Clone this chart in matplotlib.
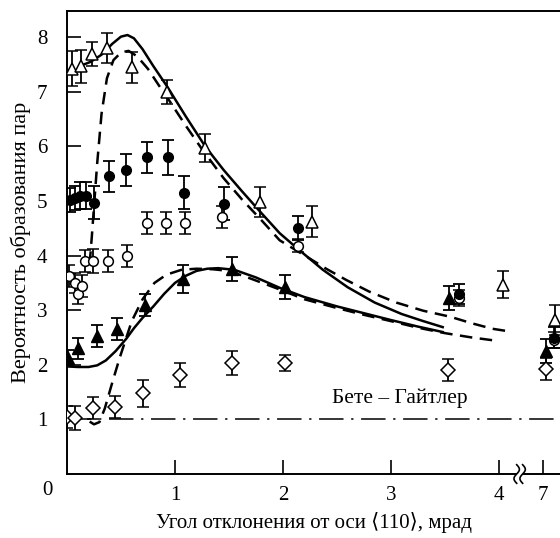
import numpy as np
import matplotlib
matplotlib.use('Agg')
import matplotlib.pyplot as plt

plt.rcParams['font.family'] = ['Liberation Serif', 'DejaVu Serif']
plt.rcParams['mathtext.fontset'] = 'stix'

# --- experimental points (angle in mrad, probability, error) ---
tri_open_x = [0.05, 0.13, 0.23, 0.37, 0.60, 0.93, 1.28, 1.79, 2.27, 4.04, 7.11]
tri_open_y = [7.42, 7.47, 7.69, 7.80, 7.45, 7.00, 5.97, 4.98, 4.62, 3.47, 2.82]
tri_open_e = [0.32, 0.30, 0.22, 0.28, 0.28, 0.22, 0.25, 0.28, 0.28, 0.25, 0.28]

circ_fill_x = [0.03, 0.07, 0.12, 0.18, 0.25, 0.39, 0.55, 0.74, 0.94, 1.08, 1.45, 2.14, 3.63, 7.10]
circ_fill_y = [5.02, 5.06, 5.10, 5.10, 4.97, 5.45, 5.57, 5.80, 5.80, 5.15, 4.95, 4.50, 3.30, 2.50]
circ_fill_e = [0.22, 0.22, 0.25, 0.25, 0.30, 0.28, 0.30, 0.28, 0.32, 0.30, 0.30, 0.22, 0.18, 0.20]

circ_open_x = [0.02, 0.07, 0.10, 0.14, 0.17, 0.24, 0.38, 0.56, 0.74, 0.92, 1.09, 1.44, 2.14, 3.63, 7.10]
circ_open_y = [3.62, 3.50, 3.30, 3.45, 3.90, 3.90, 3.90, 3.99, 4.60, 4.60, 4.60, 4.70, 4.18, 3.22, 2.45]
circ_open_e = [0.20, 0.18, 0.18, 0.20, 0.20, 0.22, 0.20, 0.20, 0.20, 0.20, 0.20, 0.20, 0.12, 0.15, 0.15]

tri_fill_x = [0.01, 0.10, 0.28, 0.46, 0.72, 1.07, 1.53, 2.02, 3.54, 7.03]
tri_fill_y = [2.12, 2.30, 2.53, 2.66, 3.10, 3.57, 3.75, 3.42, 3.22, 2.25]
tri_fill_e = [0.15, 0.20, 0.20, 0.20, 0.20, 0.25, 0.22, 0.22, 0.22, 0.22]

diam_x = [0.00, 0.07, 0.24, 0.44, 0.70, 1.05, 1.53, 2.02, 3.53, 7.03]
diam_y = [1.04, 1.03, 1.21, 1.23, 1.48, 1.81, 2.03, 2.03, 1.90, 1.92]
diam_e = [0.20, 0.22, 0.20, 0.20, 0.25, 0.22, 0.22, 0.15, 0.20, 0.20]

# --- theoretical curves ---
up_solid_x = [0.13, 0.22, 0.32, 0.42, 0.50, 0.56, 0.62, 0.70, 0.80, 0.93, 1.10, 1.28, 1.45,
              1.62, 1.80, 1.97, 2.14, 2.37, 2.60, 2.85, 3.10, 3.30, 3.48]
up_solid_y = [7.48, 7.55, 7.68, 7.88, 8.01, 8.04, 7.98, 7.78, 7.47, 7.09, 6.55, 6.00, 5.57,
              5.18, 4.78, 4.41, 4.12, 3.74, 3.42, 3.14, 2.93, 2.80, 2.69]

up_dash_x = [0.21, 0.23, 0.25, 0.28, 0.32, 0.37, 0.43, 0.50, 0.57, 0.65, 0.75, 0.85, 0.93,
             1.10, 1.25, 1.45, 1.62, 1.80, 1.97, 2.22, 2.40, 2.59, 2.80, 3.05, 3.30, 3.55,
             3.75, 3.94, 4.07]
up_dash_y = [3.85, 4.35, 4.90, 5.70, 6.60, 7.25, 7.58, 7.72, 7.75, 7.65, 7.42, 7.12, 6.89,
             6.38, 5.95, 5.42, 5.03, 4.65, 4.28, 3.98, 3.76, 3.55, 3.34, 3.14, 2.99, 2.88,
             2.76, 2.66, 2.62]

lo_solid_x = [0.0, 0.10, 0.20, 0.28, 0.36, 0.45, 0.55, 0.62, 0.70, 0.80, 0.90, 1.00, 1.10,
              1.20, 1.30, 1.40, 1.55, 1.75, 1.97, 2.20, 2.50, 2.74, 3.00, 3.25, 3.48]
lo_solid_y = [1.97, 1.96, 1.96, 1.99, 2.08, 2.25, 2.48, 2.67, 2.86, 3.07, 3.30, 3.50, 3.63,
              3.72, 3.76, 3.77, 3.74, 3.60, 3.41, 3.24, 3.07, 2.95, 2.82, 2.70, 2.60]

lo_dash_x = [0.21, 0.25, 0.30, 0.35, 0.42, 0.49, 0.55, 0.60, 0.70, 0.81, 0.92, 1.06, 1.20,
             1.35, 1.50, 1.70, 1.97, 2.20, 2.50, 2.74, 3.00, 3.25, 3.50, 3.75, 3.98]
lo_dash_y = [0.96, 0.91, 0.95, 1.20, 1.68, 2.14, 2.50, 2.80, 3.20, 3.50, 3.65, 3.74, 3.76,
             3.75, 3.72, 3.58, 3.38, 3.20, 3.04, 2.92, 2.80, 2.68, 2.58, 2.50, 2.44]

bh_level = 1.0
xticks = [1, 2, 3, 4, 7]
yticks = [1, 2, 3, 4, 5, 6, 7, 8]

# broken x axis: 4.2 .. 6.82 squeezed almost to nothing
A, B, EPS = 4.2, 6.82, 0.01


def fwd(x):
    x = np.asarray(x, dtype=float)
    return np.where(x < A, x, np.where(x < B, A + (x - A) * EPS, A + (B - A) * EPS + (x - B)))


def inv(p):
    p = np.asarray(p, dtype=float)
    c = A + (B - A) * EPS
    return np.where(p < A, p, np.where(p < c, A + (p - A) / EPS, B + (p - c)))


fig = plt.figure(figsize=(5.6, 5.38), dpi=100)
ax = fig.add_axes([67 / 560, 1 - 474 / 538, 1 - 67 / 560, (474 - 11) / 538])
ax.set_xscale('function', functions=(fwd, inv))
ax.set_xlim(0, 7.16)
ax.set_ylim(0, 8.48)

lw = 1.8
ax.plot(up_solid_x, up_solid_y, color='black', lw=lw, zorder=2)
ax.plot(lo_solid_x, lo_solid_y, color='black', lw=lw, zorder=2)
ax.plot(up_dash_x, up_dash_y, color='black', lw=lw, dashes=(5, 3), zorder=2)
ax.plot(lo_dash_x, lo_dash_y, color='black', lw=lw, dashes=(5, 3), zorder=2)
ax.axhline(bh_level, color='black', lw=1.1, dashes=(16, 5, 1.5, 5), zorder=1)

eb = dict(color='black', ecolor='black', elinewidth=1.3, capsize=4, capthick=1.3,
          linestyle='none', zorder=3)
ax.errorbar(diam_x, diam_y, yerr=diam_e, marker='D', ms=7, mfc='white', mec='black', mew=1.1, **eb)
ax.errorbar(tri_fill_x, tri_fill_y, yerr=tri_fill_e, marker='^', ms=8, mfc='black', mec='black', **eb)
ax.errorbar(circ_open_x, circ_open_y, yerr=circ_open_e, marker='o', ms=7, mfc='white', mec='black', mew=1.1, **eb)
ax.errorbar(circ_fill_x, circ_fill_y, yerr=circ_fill_e, marker='o', ms=7, mfc='black', mec='black', **eb)
ax.errorbar(tri_open_x, tri_open_y, yerr=tri_open_e, marker='^', ms=9, mfc='white', mec='black', mew=1.1, **eb)

ax.text(3.08, 1.39, 'Бете – Гайтлер', fontsize=15.5, ha='center', va='center')

ax.set_xticks(xticks)
ax.set_xticklabels([str(t) for t in xticks])
ax.set_yticks(yticks)
ax.xaxis.set_minor_locator(matplotlib.ticker.NullLocator())
ax.tick_params(direction='in', length=10, width=1.2, labelsize=15, pad=9)
ax.tick_params(axis='y', pad=14)
for s in ['left', 'bottom', 'top']:
    ax.spines[s].set_linewidth(1.4)
ax.spines['right'].set_visible(False)
ax.text(-0.18, -0.3, '0', fontsize=15, ha='center', va='center', clip_on=False)

# break mark on the x axis: white gap in the spine plus two wavy strokes
p1, p2 = 4.165, 4.22
ax.plot(inv([p1, p2]), [0, 0], color='white', lw=3, clip_on=False, zorder=4,
        solid_capstyle='butt')
tt = np.linspace(-1, 1, 40)
for pb in (p1, p2):
    px = pb + 0.025 * np.sin(tt * np.pi)
    ax.plot(inv(px), tt * 0.17, color='black', lw=1.2, clip_on=False, zorder=5)

ax.set_xlabel('Угол отклонения от оси ⟨110⟩, мрад', fontsize=15, labelpad=5)
ax.set_ylabel('Вероятность образования пар', fontsize=16, labelpad=4)

fig.savefig('out.png', dpi=100)
